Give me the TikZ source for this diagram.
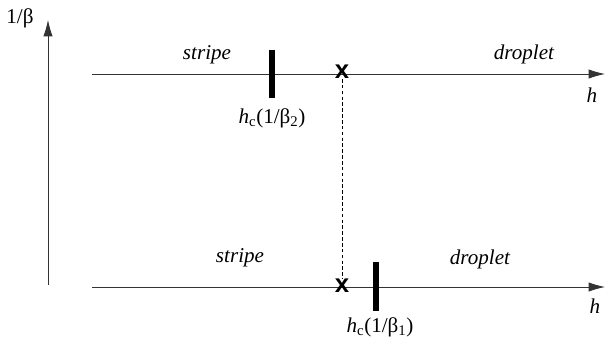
\documentclass[tikz,border=0pt]{standalone}
\usepackage{fontspec}
\setmainfont{Liberation Serif}
\setsansfont{Liberation Sans}
\usepackage{tikz}
\usetikzlibrary{positioning,arrows.meta}

\tikzset{
  axisline/.style={draw=black!80, line width=0.7pt, -{Latex[length=14pt,width=8pt]}},
  phasebar/.style={line width=5pt},
  crossmark/.style={inner sep=0pt, font=\sffamily\bfseries\fontsize{22}{22}\selectfont},
  phaselabel/.style={font=\rmfamily\itshape\fontsize{18}{18}\selectfont}
}

\begin{document}
\begin{tikzpicture}[x=0.03cm,y=-0.03cm,font=\rmfamily\fontsize{18}{18}\selectfont]
\useasboundingbox (0,0) rectangle (606,341);

% vertical axis
\coordinate (vbot) at (48,285);
\coordinate (vtop) at (48,20);
\draw[axisline] (vbot) -- (vtop);
\node (beta) at (20,18) {1/β};

% upper field line, 1/beta_2
\def\y{74}
\coordinate (ua) at (92,\y);
\coordinate (ub) at (605,\y);
\draw[axisline] (ua) -- (ub);
\node[phaselabel] (ustripe) at (207,55) {stripe};
\node[phaselabel] (udroplet) at (524,54) {droplet};
\node[phaselabel] (uh) at (592,95) {h};
\coordinate (ubartop) at (272,50);
\coordinate (ubarbot) at (272,98);
\draw[phasebar] (ubartop) -- (ubarbot);
\node (uhc) at (272,118) {\textit{h}\textsubscript{c}(1/β\textsubscript{2})};
\node[crossmark] (ux) at (342,72) {x};

% lower field line, 1/beta_1
\def\y{287}
\coordinate (la) at (92,\y);
\coordinate (lb) at (605,\y);
\draw[axisline] (la) -- (lb);
\node[phaselabel] (lstripe) at (240,258) {stripe};
\node[phaselabel] (ldroplet) at (480,259) {droplet};
\node[phaselabel] (lh) at (595,306) {h};
\coordinate (lbartop) at (376,262);
\coordinate (lbarbot) at (376,311);
\draw[phasebar] (lbartop) -- (lbarbot);
\node (lhc) at (380,327) {\textit{h}\textsubscript{c}(1/β\textsubscript{1})};
\node[crossmark] (lx) at (342,286) {x};

% link of the two crossings
\draw[line width=0.6pt, dash pattern=on 3pt off 2pt] (ux) -- (lx);

\end{tikzpicture}
\end{document}
